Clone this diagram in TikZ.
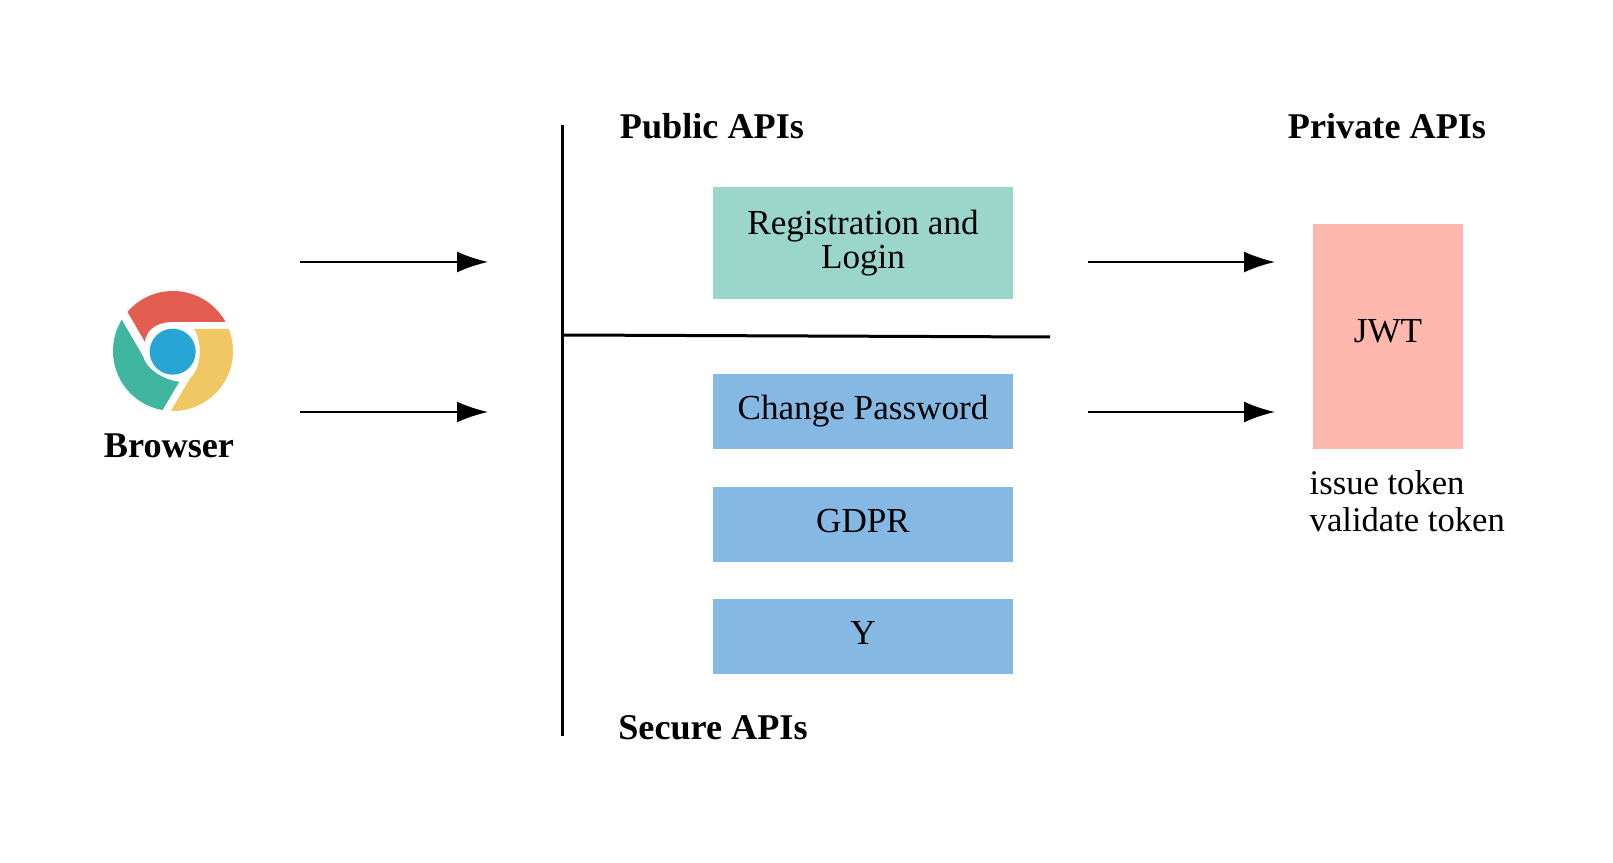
\documentclass[tikz,border=0pt]{standalone}
\usepackage{fontspec}
\setmainfont{Liberation Serif}
\usetikzlibrary{arrows.meta}
\definecolor{publicbox}{HTML}{9AD6CA}
\definecolor{securebox}{HTML}{85B9E4}
\definecolor{jwtbox}{HTML}{FFB8AE}
\definecolor{logored}{HTML}{E35D50}
\definecolor{logogreen}{HTML}{40B5A0}
\definecolor{logoyellow}{HTML}{F0C763}
\definecolor{logoblue}{HTML}{27A6D6}
\begin{document}
\begin{tikzpicture}[
    node distance=2.255cm,
    every node/.style={font=\fontsize{20}{19.2}\selectfont, text=black},
    heading/.style={font=\fontsize{20.6}{20}\selectfont\bfseries},
    publicapi/.style={rectangle, fill=publicbox, minimum width=6cm, minimum height=2.24cm,
      text centered, align=center},
    secureapi/.style={rectangle, fill=securebox, minimum width=6cm, minimum height=1.5cm,
      text centered, text depth=0.15cm},
    tokenbox/.style={rectangle, fill=jwtbox, minimum width=3cm, minimum height=4.5cm,
      text centered, text depth=0.2cm},
    arrow/.style={line width=0.04cm,-{Latex[length=0.62cm,width=0.42cm]}},
    divider/.style={line width=0.06cm}
]
\useasboundingbox (0,0) rectangle (32.26,17.26);

% browser
\begin{scope}[shift={(3.46cm,10.24cm)},x=0.02cm,y=0.02cm]
  \fill[logored] (139.3:60) arc[start angle=139.3,end angle=29,radius=60] -- (-3,29)
    .. controls (-18,28) and (-27,20) .. (-28,9) -- cycle;
  \fill[logogreen] (148.6:60) arc[start angle=148.6,end angle=260,radius=60] -- (6.3,-30.7)
    .. controls (-11.3,-29) and (-28,-15.7) .. (-29.7,-5.7) -- cycle;
  \fill[logoyellow] (21.7:60) arc[start angle=21.7,end angle=-92,radius=60] -- (17,-27.3)
    .. controls (30,-15.7) and (28.7,11) .. (21,22) -- cycle;
  \fill[logoblue] (-0.3,-0.7) circle (23);
\end{scope}
\node (browser) [heading] at (3.38,8.34) {Browser};

% headings
\node (public)  [heading] at (14.24,14.74) {Public APIs};
\node (private) [heading] at (27.74,14.74) {Private APIs};
\node (secure)  [heading] at (14.26,2.70) {Secure APIs};

% boxes
\node (login)    [publicapi] at (17.26,12.40) {Registration and\\Login};
\node (password) [secureapi] at (17.26,9.03) {Change Password};
\node (gdpr)     [secureapi, below of=password] {GDPR};
\node (y)        [secureapi, below of=gdpr] {Y};
\node (jwt)      [tokenbox] at (27.76,10.53) {JWT};
\node (jwtnote)  [align=left, anchor=north west, font=\fontsize{19.7}{21.2}\selectfont]
  at (26.07,7.98) {issue token\\validate token};

% end points
\coordinate (wallt) at (11.24,14.76);
\coordinate (wallb) at (11.24,2.54);
\coordinate (splitl) at (11.24,10.56);
\coordinate (splitr) at (21.00,10.52);
\coordinate (b1) at (6.00,12.02);
\coordinate (g1) at (9.76,12.02);
\coordinate (b2) at (6.00,9.02);
\coordinate (g2) at (9.76,9.02);
\coordinate (p1) at (21.76,12.02);
\coordinate (j1) at (25.50,12.02);
\coordinate (p2) at (21.76,9.02);
\coordinate (j2) at (25.50,9.02);

\draw [divider] (wallt) -- (wallb);
\draw [divider] (splitl) -- (splitr);
\draw [arrow] (b1) -- (g1);
\draw [arrow] (b2) -- (g2);
\draw [arrow] (p1) -- (j1);
\draw [arrow] (p2) -- (j2);
\end{tikzpicture}
\end{document}
